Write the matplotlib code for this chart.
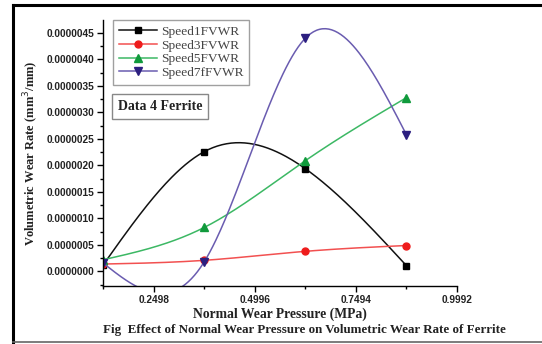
import numpy as np
import matplotlib
matplotlib.use("Agg")
import matplotlib.pyplot as plt
from matplotlib.lines import Line2D
from matplotlib.ticker import MultipleLocator, FormatStrFormatter, FixedLocator

##### Data #####
pressure = [0.1249, 0.3747, 0.6245, 0.8743]
speed1 = [1.2e-7, 2.26e-6, 1.94e-6, 1.1e-7]
speed3 = [1.4e-7, 2.1e-7, 3.8e-7, 4.9e-7]
speed5 = [2.2e-7, 8.3e-7, 2.09e-6, 3.28e-6]
speed7 = [1.6e-7, 1.8e-7, 4.4e-6, 2.58e-6]
names = ["Speed1FVWR", "Speed3FVWR", "Speed5FVWR", "Speed7fFVWR"]
xticks = [0.2498, 0.4996, 0.7494, 0.9992]


##### natural cubic spline, only used to draw the smooth line #####
def spline(x, y, n=200):
    x = np.asarray(x, float); y = np.asarray(y, float)
    k = len(x); h = np.diff(x)
    A = np.zeros((k, k)); b = np.zeros(k)
    A[0, 0] = 1; A[-1, -1] = 1
    for i in range(1, k - 1):
        A[i, i - 1] = h[i - 1]; A[i, i] = 2 * (h[i - 1] + h[i]); A[i, i + 1] = h[i]
        b[i] = 6 * ((y[i + 1] - y[i]) / h[i] - (y[i] - y[i - 1]) / h[i - 1])
    M = np.linalg.solve(A, b)
    xs = np.linspace(x[0], x[-1], n); ys = np.zeros(n)
    for j, t in enumerate(xs):
        i = min(np.searchsorted(x, t, side="right") - 1, k - 2)
        a = x[i + 1] - t; c = t - x[i]
        ys[j] = (M[i] * a**3 + M[i + 1] * c**3) / (6 * h[i]) \
            + (y[i] / h[i] - M[i] * h[i] / 6) * a + (y[i + 1] / h[i] - M[i + 1] * h[i] / 6) * c
    return xs, ys


fig = plt.figure(figsize=(5.42, 3.44), dpi=100)
ax = fig.add_axes([103 / 542, 1 - 286 / 344, 354 / 542, 266 / 344])

styles = [
    (speed1, "#111111", "#000000", "s", 4.2),
    (speed3, "#f25050", "#ee1c1c", "o", 5.0),
    (speed5, "#3cb864", "#109a3c", "^", 5.5),
    (speed7, "#6a5cb0", "#2c1f80", "v", 5.5),
]
for (vals, lc, mc, m, ms), name in zip(styles, names):
    xs, ys = spline(pressure, vals)
    ax.plot(xs, ys, color=lc, lw=1.1)
    ax.plot(pressure, vals, ls="none", marker=m, ms=ms, color=mc)

ax.set_xlim(0.1249, 0.9992)
ax.set_ylim(-2.74e-7, 4.745e-6)
ax.xaxis.set_major_locator(FixedLocator(xticks))
ax.xaxis.set_minor_locator(FixedLocator(pressure))
ax.xaxis.set_major_formatter(FormatStrFormatter("%.4f"))
ax.yaxis.set_major_locator(MultipleLocator(5e-7))
ax.yaxis.set_minor_locator(MultipleLocator(2.5e-7))
ax.yaxis.set_major_formatter(FormatStrFormatter("%.7f"))
ax.yaxis.get_offset_text().set_visible(False)

for s in ["top", "right"]:
    ax.spines[s].set_visible(False)
for s in ["left", "bottom"]:
    ax.spines[s].set_linewidth(1.0)
ax.tick_params(which="major", direction="out", length=4, width=1, pad=2.5,
               labelsize=7.3, labelfontfamily="Liberation Sans")
ax.tick_params(which="minor", direction="out", length=2.5, width=1)
for lab in ax.get_xticklabels() + ax.get_yticklabels():
    lab.set_fontweight("bold"); lab.set_color("#222222")

ax.set_xlabel("Normal Wear Pressure (MPa)", family="Liberation Serif",
              weight="bold", fontsize=9.8, color="#222222", labelpad=2)
ax.set_ylabel("Volumetric Wear Rate (mm$^3$/mm)", family="Liberation Serif",
              weight="bold", fontsize=9, color="#222222", labelpad=4)

##### Legend #####
handles = [Line2D([], [], color=lc, marker=m, ms=ms, markerfacecolor=mc, markeredgecolor=mc, lw=1.1)
           for (v, lc, mc, m, ms) in styles]
leg = fig.legend(handles, names, loc="upper left", bbox_to_anchor=(113 / 542, 1 - 20 / 344),
                 prop={"family": "Liberation Serif", "size": 9.6}, frameon=True, fancybox=False,
                 edgecolor="#888888", borderpad=0.42, labelspacing=0.1, handlelength=2.9,
                 handletextpad=0.3, borderaxespad=0)
leg.get_frame().set_linewidth(1.0)
for t in leg.get_texts():
    t.set_color("#444444")

fig.text(118 / 542, 1 - 106.5 / 344, "Data 4 Ferrite", family="Liberation Serif", weight="bold",
         fontsize=10, color="#222222", va="center", ha="left",
         bbox=dict(boxstyle="square,pad=0.4", fc="white", ec="#888888", lw=1.0))

fig.text(103 / 542, 1 - 330 / 344,
         "Fig  Effect of Normal Wear Pressure on Volumetric Wear Rate of Ferrite",
         family="Liberation Serif", weight="bold", fontsize=9.4, color="#222222",
         va="center", ha="left")

##### outer frame #####
fig.add_artist(Line2D([13 / 542, 1], [1 - 5 / 344] * 2, color="black", lw=2.2))
fig.add_artist(Line2D([13 / 542] * 2, [1 - 5 / 344, 1 - 342 / 344], color="black", lw=2.2))
fig.add_artist(Line2D([13 / 542, 1], [1 - 342 / 344] * 2, color="#666666", lw=1.2))

fig.savefig("out.png", dpi=100, facecolor="white")
